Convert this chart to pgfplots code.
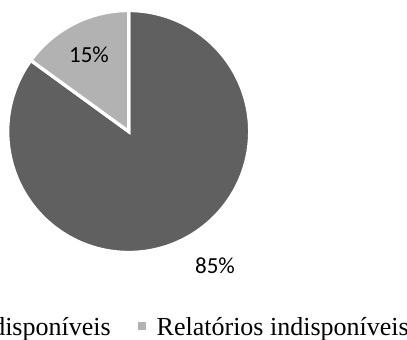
\documentclass[border=0pt]{standalone}
\usepackage{pgfplots}
\pgfplotsset{compat=1.18}
\usepackage{pgfplotstable}
\usepackage{fontspec}
\setmainfont{Liberation Serif}
\newfontfamily\labelfont{Carlito}

\definecolor{darkslice}{HTML}{606060}
\definecolor{lightslice}{HTML}{B2B2B2}

% share of reports, in percent
\pgfplotstableread{
label share
disponiveis 85
indisponiveis 15
}\sharetable

\pgfplotstablegetelem{0}{share}\of\sharetable \let\shareA\pgfplotsretval
\pgfplotstablegetelem{1}{share}\of\sharetable \let\shareB\pgfplotsretval
% slices run clockwise from 12 o'clock
\pgfmathsetmacro\angStart{90}
\pgfmathsetmacro\angA{\angStart-3.6*\shareA}
\pgfmathsetmacro\angB{\angA-3.6*\shareB}
\def\R{121}

\begin{document}
\begin{tikzpicture}
\useasboundingbox (0,0) rectangle (407pt,340pt);
\clip (0,0) rectangle (407pt,340pt);
\begin{axis}[
  x=1pt, y=1pt,
  xmin=-130, xmax=130, ymin=-130, ymax=130,
  hide axis, clip=false,
  anchor=origin, at={(128.7pt,208.5pt)},
  legend columns=2,
  legend image code/.code={\fill[#1,draw=none] (0pt,-3pt) rectangle (8pt,5pt);},
  legend style={draw=none, fill=none, inner sep=0pt,
    nodes={inner sep=0pt},
    font=\fontsize{26}{31}\selectfont,
    /tikz/every odd column/.append style={column sep=11pt},
    /tikz/every even column/.append style={column sep=27pt},
    at={(axis cs:-269,-186.0)}, anchor=north west},
]
\addplot[fill=darkslice, draw=white, line width=3.3pt, domain=\angA:\angStart, samples=150, variable=\t]
  ({\R*cos(\t)},{\R*sin(\t)}) -- (axis cs:0,0) -- cycle;
\addlegendentry{Relatórios disponíveis}
\addplot[fill=lightslice, draw=white, line width=3.3pt, domain=\angB:\angA, samples=40, variable=\t]
  ({\R*cos(\t)},{\R*sin(\t)}) -- (axis cs:0,0) -- cycle;
\addlegendentry{Relatórios indisponíveis}
\node[font=\labelfont\fontsize{23}{27}\selectfont] at (axis cs:-39.7,77) {\shareB\%};
\node[font=\labelfont\fontsize{23}{27}\selectfont] at (axis cs:86.3,-134) {\shareA\%};
\end{axis}
\end{tikzpicture}
\end{document}
